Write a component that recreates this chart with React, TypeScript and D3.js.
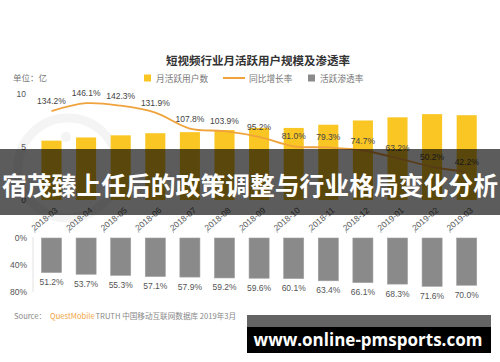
import * as d3 from "d3";

const months = [
  "2018-03", "2018-04", "2018-05", "2018-06", "2018-07", "2018-08", "2018-09",
  "2018-10", "2018-11", "2018-12", "2019-01", "2019-02", "2019-03",
];
// 月活跃用户数（亿）
const mau = [5.6, 5.9, 6.1, 6.3, 6.4, 6.6, 6.8, 6.8, 7.1, 7.5, 7.8, 8.1, 8.0];
// 同比增长率（%）
const growth = [134.2, 146.1, 142.3, 131.9, 107.8, 103.9, 95.2, 81.0, 79.3, 74.7, 63.2, 50.2, 42.2];
// 活跃渗透率（%）
const penetration = [51.2, 53.7, 55.3, 57.1, 57.9, 59.2, 59.6, 60.1, 63.4, 66.1, 68.3, 71.6, 70.0];
const leftTicks = [0, 5, 10];
const pctTicks = [0, 40, 80];

const title = "短视频行业月活跃用户规模及渗透率";
const banner = "宿茂臻上任后的政策调整与行业格局变化分析";
const site = "www.online-pmsports.com";

const W = 500;
const H = 362;
const FONT = "'Liberation Sans', 'Noto Sans CJK SC', sans-serif";
const CJK = "'Noto Sans CJK SC', sans-serif";
const YELLOW = "#f9c623";
const ORANGE = "#f0a33c";
const GRAY = "#8a8a8a";

export default function App() {
  const x = d3.scaleBand<string>().domain(months).range([34.2, 484]).paddingInner(0.42).paddingOuter(0.21);
  const yTop = d3.scaleLinear().domain([0, 10]).range([200, 94]);
  const yRate = d3.scaleLinear().domain([0, 160]).range([200, 94]);
  const yPen = d3.scaleLinear().domain([0, 80]).range([238, 292]);
  const cx = (m: string) => (x(m) ?? 0) + x.bandwidth() / 2;

  const line = d3
    .line<number>()
    .x((_, i) => cx(months[i]))
    .y((d) => yRate(d))
    .curve(d3.curveCatmullRom.alpha(0.5));

  const boundaries = months.map((m) => (x(m) ?? 0) - (x.step() - x.bandwidth()) / 2);

  return (
    <svg
      width={W}
      height={H}
      style={{ position: "absolute", left: 0, top: 0, background: "#fff" }}
      fontFamily={FONT}
    >
      <rect width={W} height={H} fill="#fff" />
      {/* faint background logo */}
      <circle cx={68} cy={168} r={50} fill="none" stroke="#f4f4f4" strokeWidth={9} />
      <circle cx={66} cy={137} r={5} fill="#f4f4f4" />

      <text x={258} y={60} textAnchor="middle" dominantBaseline="central" fontFamily={CJK} fontSize={11.5} fontWeight="bold" fill="#333">
        {title}
      </text>
      <text x={13} y={77} dominantBaseline="central" fontFamily={CJK} fontSize={8.5} fill="#777">
        单位：亿
      </text>

      {/* legend */}
      <rect x={144} y={74.5} width={7} height={7} fill={YELLOW} />
      <text x={156} y={78} dominantBaseline="central" fontFamily={CJK} fontSize={8.7} fill="#777">月活跃用户数</text>
      <line x1={223} x2={245} y1={78} y2={78} stroke={ORANGE} strokeWidth={2} />
      <text x={249} y={78} dominantBaseline="central" fontFamily={CJK} fontSize={8.7} fill="#777">同比增长率</text>
      <rect x={308} y={74.5} width={7} height={7} fill={GRAY} />
      <text x={320} y={78} dominantBaseline="central" fontFamily={CJK} fontSize={8.7} fill="#777">活跃渗透率</text>

      {/* left axis */}
      {leftTicks.map((t) => (
        <text key={t} x={26} y={yTop(t)} textAnchor="end" dominantBaseline="central" fontSize={8.5} fill="#555">
          {t}
        </text>
      ))}

      {/* MAU bars */}
      {months.map((m, i) => (
        <rect key={m} x={x(m)} y={yTop(mau[i])} width={x.bandwidth()} height={yTop(0) - yTop(mau[i])} fill={YELLOW} />
      ))}

      {/* growth line */}
      <path d={line(growth) ?? ""} fill="none" stroke={ORANGE} strokeWidth={1.8} />
      {months.map((m, i) => (
        <text key={m} x={cx(m)} y={yRate(growth[i]) - 10} textAnchor="middle" dominantBaseline="central" fontSize={8.5} fill="#444">
          {growth[i].toFixed(1)}%
        </text>
      ))}

      {/* category labels */}
      {months.map((m) => (
        <text
          key={m}
          transform={`translate(${cx(m) + 5},${209}) rotate(-40)`}
          textAnchor="end"
          dominantBaseline="central"
          fontSize={8.5}
          fill="#555"
        >
          {m}
        </text>
      ))}
      {boundaries.map((b, i) => (
        <line key={i} x1={b} x2={b + 1} y1={229} y2={233} stroke="#bbb" strokeWidth={1} />
      ))}

      {/* penetration bars */}
      <line x1={33} x2={33} y1={237} y2={292} stroke="#e2e2e2" />
      {pctTicks.map((t) => (
        <text key={t} x={27} y={yPen(t)} textAnchor="end" dominantBaseline="central" fontSize={8.5} fill="#555">
          {t}%
        </text>
      ))}
      {months.map((m, i) => (
        <rect key={m} x={x(m)} y={yPen(0)} width={x.bandwidth()} height={yPen(penetration[i]) - yPen(0)} fill={GRAY} stroke="#a0a0a0" strokeWidth={0.6} />
      ))}
      {months.map((m, i) => (
        <text key={m} x={cx(m)} y={yPen(penetration[i]) + 9.5} textAnchor="middle" dominantBaseline="central" fontSize={8.5} fill="#555">
          {penetration[i].toFixed(1)}%
        </text>
      ))}

      {/* source */}
      <text x={14} y={315} dominantBaseline="central" fontFamily={CJK} fontSize={7.6} fill="#888">
        Source：
        <tspan dx={4} fill={ORANGE}>QuestMobile</tspan>
        <tspan dx={1} fill="#888">TRUTH 中国移动互联网数据库 2019年3月</tspan>
      </text>

      {/* overlay banner */}
      <rect x={0} y={149} width={W} height={66} fill="#000" fillOpacity={0.64} />
      <text x={2} y={184} dominantBaseline="central" fontFamily={CJK} fontSize={24.8} fontWeight="bold" fill="#fff">
        {banner}
      </text>

      {/* site watermark */}
      <rect x={247} y={315} width={244} height={12} fill="#646464" />
      <rect x={247} y={327} width={244} height={26} fill="#000" />
      <text x={368} y={339} textAnchor="middle" dominantBaseline="central" fontFamily="'Open Sans', 'DejaVu Sans', sans-serif" fontSize={17} fontWeight="bold" fill="#fff">
        {site}
      </text>
    </svg>
  );
}
